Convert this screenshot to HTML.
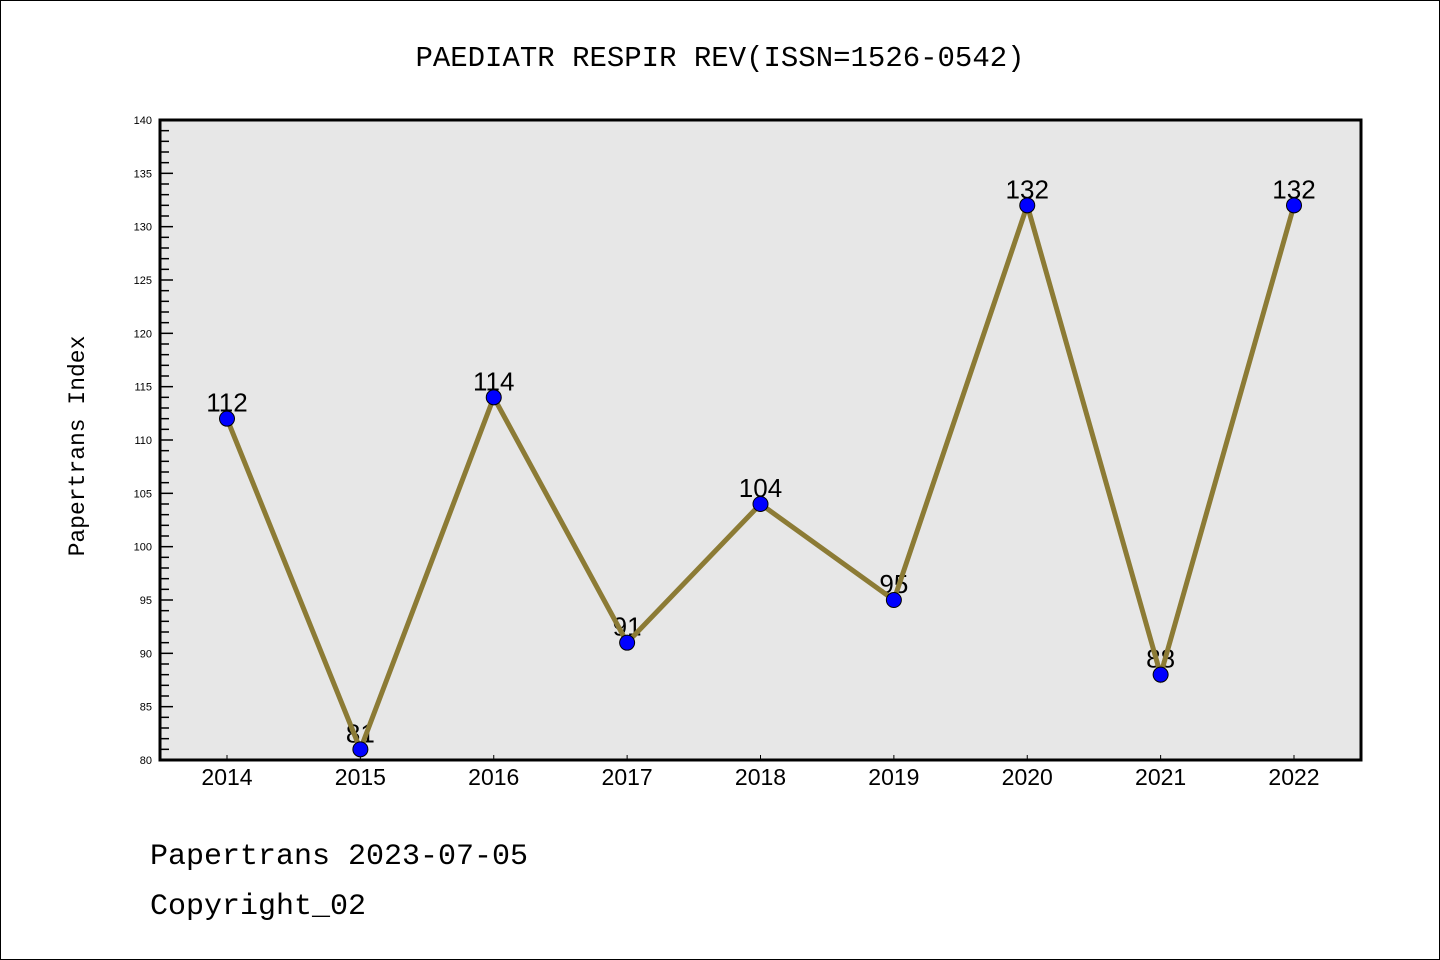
<!DOCTYPE html>
<html><head><meta charset="utf-8"><style>
body{margin:0;background:#fff;}
svg{display:block;font-family:"Liberation Sans","DejaVu Sans",sans-serif;}
</style></head><body>
<svg id="chart" width="1440" height="960" xmlns="http://www.w3.org/2000/svg">
<rect x="0.5" y="0.5" width="1439" height="959" fill="#fff" stroke="#000" stroke-width="1"/>
<text x="720" y="66" text-anchor="middle" font-size="29" font-family="'Liberation Mono',monospace">PAEDIATR RESPIR REV(ISSN=1526-0542)</text>
<rect x="160" y="120" width="1201" height="640" fill="#e7e7e7"/>
<g id="yticks"></g><g id="xticks"></g><g id="labels"></g><g id="series"></g>
<rect x="160" y="120" width="1201" height="640" fill="none" stroke="#000" stroke-width="3"/>
<text transform="translate(84,446) rotate(-90)" text-anchor="middle" font-size="23" font-family="'Liberation Mono',monospace">Papertrans Index</text>
<text x="150" y="864" font-size="30" font-family="'Liberation Mono',monospace">Papertrans 2023-07-05</text>
<text x="150" y="914" font-size="30" font-family="'Liberation Mono',monospace">Copyright_02</text>
</svg>
<script>
const years=[2014,2015,2016,2017,2018,2019,2020,2021,2022];
const values=[112,81,114,91,104,95,132,88,132];
const yTickLabels=[80,85,90,95,100,105,110,115,120,125,130,135,140];
const NS="http://www.w3.org/2000/svg";
const X0=160,X1=1361,Y0=760,Y1=120,yMin=80,yMax=140;
const xs=i=>227+i*(1294-227)/(years.length-1);
const ys=v=>Y0-(v-yMin)/(yMax-yMin)*(Y0-Y1);
function mk(tag,attrs,parent){const e=document.createElementNS(NS,tag);for(const k in attrs)e.setAttribute(k,attrs[k]);parent.appendChild(e);return e;}
const yt=document.getElementById('yticks'),xt=document.getElementById('xticks'),lb=document.getElementById('labels'),sr=document.getElementById('series');
for(let v=yMin;v<=yMax;v++){
  const major=(v%5===0);
  const t=mk('line',{x1:X0,x2:X0+(major?13:9),y1:ys(v),y2:ys(v),stroke:'#000','stroke-width':1.5},yt);
  
  
}
yTickLabels.forEach(v=>{
  const t=mk('text',{x:152,y:ys(v)+4,'text-anchor':'end','font-size':11},yt);
  
  
  t.textContent=v;
});
years.forEach((y,i)=>{
  const l=mk('line',{x1:xs(i),x2:xs(i),y1:Y0,y2:Y0-5,stroke:'#000','stroke-width':1},xt);
  
  
  const t=mk('text',{x:xs(i),y:785,'text-anchor':'middle','font-size':23},xt);
  
  
  t.textContent=y;
});
values.forEach((v,i)=>{
  const t=mk('text',{x:xs(i),y:ys(v)-7,'text-anchor':'middle','font-size':26},lb);
  
  
  t.textContent=v;
});
const pl=mk('polyline',{points:values.map((v,i)=>xs(i)+','+ys(v)).join(' '),fill:'none',stroke:'#8c7b35','stroke-width':5,'stroke-linejoin':'miter'},sr);


values.forEach((v,i)=>{
  const c=mk('circle',{cx:xs(i),cy:ys(v),r:7.5,fill:'#0000ff',stroke:'#000','stroke-width':1},sr);
  
  
});
</script>
</body></html>
